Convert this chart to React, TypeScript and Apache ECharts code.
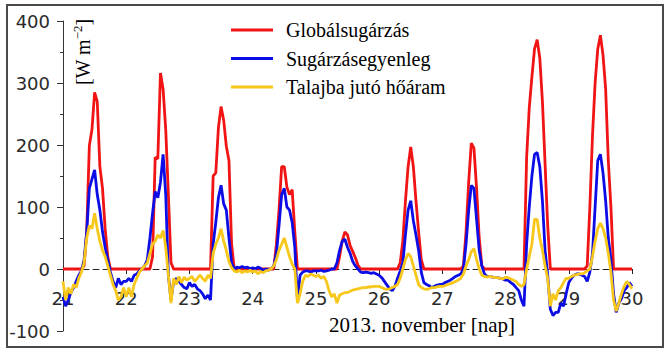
import React, { useEffect, useRef } from "react";
import * as echarts from "echarts";

// time axis: hourly readings starting at 21 November 00:00, last value at 30 November 00:00
const startDay = 21;
const stepsPerDay = 24;

const seriesNames = ["Globálsugárzás", "Sugárzásegyenleg", "Talajba jutó hőáram"];
const seriesColors = ["#f01414", "#0c0ce6", "#f7c81b"];

const dayTickLabels = ["21", "22", "23", "24", "25", "26", "27", "28", "29", "30"];
const yTickLabels = ["-100", "0", "100", "200", "300", "400"];

// Globálsugárzás [W m-2]
const globalRadiation = [
  // 21
  0, 0, 0, 0, 0, 0, 0, 0, 5, 60, 199, 225, 285, 270, 165, 130, 65, 20, 0, 0, 0, 0, 0, 0,
  // 22
  0, 0, 0, 0, 0, 0, 0, 0, 0, 0, 20, 180, 178, 316, 290, 225, 120, 10, 0, 0, 0, 0, 0, 0,
  // 23
  0, 0, 0, 0, 0, 0, 0, 0, 0, 150, 155, 228, 262, 240, 198, 175, 40, 0, 0, 0, 0, 0, 0, 0,
  // 24
  0, 0, 0, 0, 0, 0, 0, 0, 0, 40, 95, 165, 165, 132, 120, 128, 60, 0, 0, 0, 0, 0, 0, 0,
  // 25
  0, 0, 0, 0, 0, 0, 0, 0, 0, 20, 45, 60, 55, 38, 28, 18, 6, 0, 0, 0, 0, 0, 0, 0,
  // 26
  0, 0, 0, 0, 0, 0, 0, 0, 10, 45, 110, 165, 197, 165, 110, 60, 15, 0, 0, 0, 0, 0, 0, 0,
  // 27
  0, 0, 0, 0, 0, 0, 0, 0, 5, 60, 140, 203, 195, 130, 50, 5, 0, 0, 0, 0, 0, 0, 0, 0,
  // 28
  0, 0, 0, 0, 0, 0, 0, 0, 180, 260, 310, 355, 370, 340, 270, 170, 70, 0, 0, 0, 0, 0, 0, 0,
  // 29
  0, 0, 0, 0, 0, 0, 0, 5, 100, 215, 300, 355, 377, 345, 290, 175, 100, 0, 0, 0, 0, 0, 0, 0,
  // 30
  0,
];

// Sugárzásegyenleg [W m-2]
const netRadiation = [
  // 21
  -45, -60, -50, -38, -30, -20, -10, -3, 15, 60, 130, 145, 160, 120, 95, 60, 35, 15, -5, -20, -30, -15, -25, -20,
  // 22
  -20, -15, -20, -10, -8, -3, 0, 5, 15, 50, 90, 125, 115, 140, 185, 120, -10, -50, -20, -15, -20, -25, -30, -32,
  // 23
  -22, -28, -25, -32, -35, -40, -48, -42, -50, 40, 75, 115, 135, 105, 95, 50, 10, 0, 3, 2, 4, 2, 3, 0,
  // 24
  2, 0, 3, 1, -2, 0, -2, 0, 5, 25, 70, 120, 130, 100, 95, 75, 35, -50, -10, -5, -3, -3, -5, -3,
  // 25
  -3, -3, -2, -4, -3, -2, 0, 0, 10, 30, 45, 48, 35, 25, 12, 5, 0, -5, -6, -5, -6, -7, -6, -8,
  // 26
  -10, -14, -20, -26, -32, -35, -28, -15, -3, 10, 55, 95, 110, 78, 55, 30, -5, -22, -25, -27, -30, -28, -26, -25,
  // 27
  -25, -22, -20, -18, -15, -12, -10, -8, 0, 40, 95, 135, 130, 80, 30, 5, -8, -12, -12, -13, -14, -14, -15, -16,
  // 28
  -18, -18, -22, -25, -30, -35, -50, -60, 40, 100, 150, 185, 188, 165, 110, 30, -10, -65, -75, -70, -70, -55, -60, -40,
  // 29
  -22, -15, -10, -8, -8, -10, -12, -20, -5, 25, 100, 175, 185, 155, 110, 50, 15, -40, -70, -55, -48, -35, -30, -22,
  // 30
  -28,
];

// Talajba jutó hőáram [W m-2]
const soilHeatFlux = [
  // 21
  -20, -50, -30, -40, -25, -30, -15, -5, 10, 50, 70, 65, 90, 65, 45, 30, 20, 5, -10, -25, -35, -50, -45, -30,
  // 22
  -45, -30, -45, -25, -15, -5, 0, 5, 10, 25, 40, 45, 55, 50, 62, 35, -10, -55, -15, -25, -12, -22, -13, -18,
  // 23
  -15, -12, -20, -15, -10, -15, -20, -10, -15, 25, 40, 50, 65, 45, 30, 12, 2, -3, -5, -2, -6, -3, -5, -2,
  // 24
  -5, -3, -8, -4, -6, -3, -2, 0, 5, 15, 30, 40, 50, 35, 20, 8, 0, -55, -40, -20, -10, -12, -8, -10,
  // 25
  -12, -10, -15, -12, -20, -35, -45, -40, -55, -42, -40, -38, -38, -36, -34, -33, -32, -31, -30, -30, -29, -29, -28, -28,
  // 26
  -28, -30, -32, -33, -32, -30, -28, -25, -15, 0, 15, 25, 20, 5, -10, -25, -30, -32, -33, -32, -30, -30, -29, -28,
  // 27
  -28, -27, -25, -24, -22, -20, -18, -15, -8, 5, 15, 28, 33, 15, 0, -10, -12, -13, -12, -13, -14, -14, -15, -16,
  // 28
  -13, -14, -16, -18, -20, -25, -28, -25, 0, 20, 40, 80, 80, 50, 30, 5, -15, -60, -40, -50, -35, -30, -22, -15,
  // 29
  -15, -12, -10, -9, -8, -8, -6, -3, 0, 20, 45, 65, 74, 65, 50, 25, -5, -50, -68, -55, -40, -28, -20, -25,
  // 30
  -32,
];

const seriesValues = [globalRadiation, netRadiation, soilHeatFlux];

function toPairs(values: number[]): number[][] {
  return values.map((v, i) => [startDay + i / stepsPerDay, v]);
}

const GRID_TOP = 21;
const GRID_BOTTOM = 25;
const CHART_H = 356;

export default function App() {
  const ref = useRef<HTMLDivElement>(null);

  useEffect(() => {
    if (!ref.current) return;
    const chart = echarts.init(ref.current, null, { renderer: "svg" });
    const axisFont = '"DejaVu Sans", sans-serif';
    const serif = '"Liberation Serif", serif';
    const firstDay = Number(dayTickLabels[0]);
    const lastDay = Number(dayTickLabels[dayTickLabels.length - 1]);
    const yMin = Number(yTickLabels[0]);
    const yMax = Number(yTickLabels[yTickLabels.length - 1]);
    // move the x axis from the bottom of the grid up to the zero line
    const plotH = CHART_H - GRID_TOP - GRID_BOTTOM;
    const zeroOffset = -plotH * (0 - yMin) / (yMax - yMin);

    chart.setOption({
      animation: false,
      backgroundColor: "#ffffff",
      grid: {
        left: 63,
        right: 40,
        top: GRID_TOP,
        bottom: GRID_BOTTOM,
        containLabel: false,
        outerBoundsMode: "none",
      },
      xAxis: {
        type: "value",
        min: firstDay,
        max: lastDay,
        interval: 1,
        position: "bottom",
        offset: zeroOffset,
        axisLine: { show: true, onZero: false, lineStyle: { color: "#222", width: 1, type: [6, 4] } },
        axisTick: { show: true, length: 5, lineStyle: { color: "#222" } },
        axisLabel: {
          margin: 20,
          fontFamily: axisFont,
          fontSize: 18,
          color: "#2a2a2a",
          showMinLabel: true,
          showMaxLabel: true,
        },
        splitLine: { show: false },
      },
      yAxis: {
        type: "value",
        min: yMin,
        max: yMax,
        interval: 100,
        axisLine: { show: true, lineStyle: { color: "#333", width: 1 } },
        axisTick: { show: true, length: 6, lineStyle: { color: "#333" } },
        minorTick: { show: true, splitNumber: 2, length: 3, lineStyle: { color: "#333" } },
        axisLabel: {
          margin: 13,
          fontFamily: axisFont,
          fontSize: 18,
          color: "#2a2a2a",
          padding: [7, 0, 0, 0],
        },
        splitLine: { show: false },
        minorSplitLine: { show: false },
      },
      legend: {
        orient: "vertical",
        left: 231,
        top: 19,
        padding: 0,
        itemGap: 6.5,
        itemWidth: 42,
        itemHeight: 3,
        icon: "rect",
        selectedMode: false,
        textStyle: {
          fontFamily: serif,
          fontSize: 20,
          color: "#000",
          lineHeight: 22,
          padding: [0, 0, 0, 8],
        },
        data: seriesNames,
      },
      series: seriesNames.map((name, k) => ({
        name,
        type: "line",
        data: toPairs(seriesValues[k]),
        showSymbol: false,
        symbol: "none",
        color: seriesColors[k],
        lineStyle: { color: seriesColors[k], width: 2.8 },
        z: 2 + k,
      })),
      graphic: {
        elements: [
          {
            type: "rect",
            silent: true,
            left: 6,
            top: 4,
            shape: { x: 0, y: 0, width: 656, height: 342 },
            style: { fill: "transparent", stroke: "#4a4a4a", lineWidth: 2 },
          },
          {
            type: "text",
            silent: true,
            x: 82,
            y: 52,
            rotation: Math.PI / 2,
            style: {
              text: "{a|[W m}{s|−2}{a|]}",
              align: "center",
              verticalAlign: "middle",
              fill: "#000",
              rich: {
                a: { fontFamily: serif, fontSize: 20, lineHeight: 22, fill: "#000", verticalAlign: "bottom" },
                s: { fontFamily: serif, fontSize: 13, lineHeight: 22, fill: "#000", verticalAlign: "top" },
              },
            },
          },
          {
            type: "text",
            silent: true,
            x: 422,
            y: 325,
            style: {
              text: "2013. november [nap]",
              font: `21px ${serif}`,
              fill: "#000",
              align: "center",
              verticalAlign: "middle",
            },
          },
        ],
      },
    });

    return () => chart.dispose();
  }, []);

  return (
    <div
      ref={ref}
      style={{ position: "fixed", left: 0, top: 0, width: 672, height: CHART_H, background: "#fff" }}
    />
  );
}
